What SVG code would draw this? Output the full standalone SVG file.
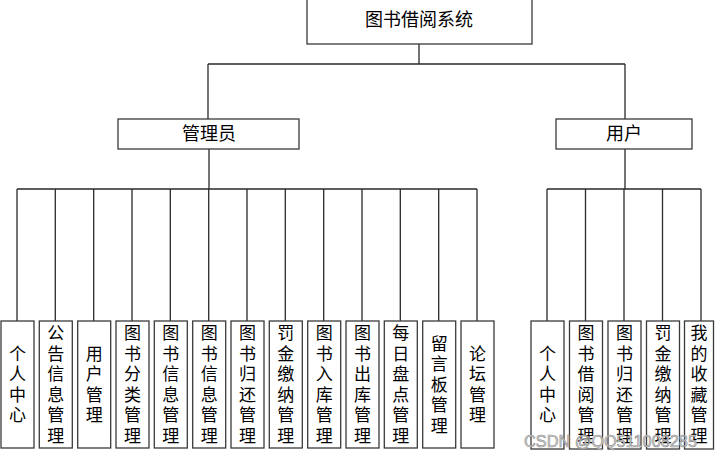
<svg xmlns="http://www.w3.org/2000/svg" width="715" height="458" viewBox="0 0 715 458">
<style>
.box{fill:#fff;stroke:#3a3a3a;stroke-width:1.3}
.ln{fill:none;stroke:#2a2a2a;stroke-width:1.3}
.t{font-family:"Noto Sans CJK SC","Noto Sans CJK JP",sans-serif;fill:#000;text-anchor:middle}
.h{font-size:18px}
.v{font-size:17px;writing-mode:vertical-rl;glyph-orientation-vertical:0;letter-spacing:3.5px}
.wm{font-family:"Liberation Sans",Arial,sans-serif;font-size:16.5px;fill:#d6d6d6;stroke:#8c8c8c;stroke-width:0.6}
</style>
<rect width="715" height="458" fill="#fff"/>
<g id="connectors">
<path class="ln" d="M419 44V64M208 64H625M208 64V119M625 64V119"/>
<path class="ln" d="M209 149V189M17 189H477M17 189V321M55.3 189V321M93.7 189V321M132 189V321M170.3 189V321M208.7 189V321M247 189V321M285.3 189V321M323.7 189V321M362 189V321M400.3 189V321M438.7 189V321M477 189V321"/>
<path class="ln" d="M625 149V189M547 189H701M547 189V321M585.5 189V321M624 189V321M662.5 189V321M701 189V321"/>
</g>
<g id="root"><rect class="box" x="307" y="-2" width="225" height="46"/><text class="t h" x="419" y="26">图书借阅系统</text></g>
<g id="admin"><rect class="box" x="118" y="119" width="181" height="30"/><text class="t h" x="209" y="140">管理员</text></g>
<g id="user"><rect class="box" x="556" y="119" width="136" height="30"/><text class="t h" x="624" y="140">用户</text></g>
<g id="a1"><rect class="box" x="1" y="321" width="33" height="127"/><text class="t v" x="17.5" y="386">个人中心</text></g>
<g id="a2"><rect class="box" x="39.3" y="321" width="33" height="127"/><text class="t v" x="55.8" y="386">公告信息管理</text></g>
<g id="a3"><rect class="box" x="77.7" y="321" width="33" height="127"/><text class="t v" x="94.2" y="386">用户管理</text></g>
<g id="a4"><rect class="box" x="116" y="321" width="33" height="127"/><text class="t v" x="132.5" y="386">图书分类管理</text></g>
<g id="a5"><rect class="box" x="154.3" y="321" width="33" height="127"/><text class="t v" x="170.8" y="386">图书信息管理</text></g>
<g id="a6"><rect class="box" x="192.7" y="321" width="33" height="127"/><text class="t v" x="209.2" y="386">图书信息管理</text></g>
<g id="a7"><rect class="box" x="231" y="321" width="33" height="127"/><text class="t v" x="247.5" y="386">图书归还管理</text></g>
<g id="a8"><rect class="box" x="269.3" y="321" width="33" height="127"/><text class="t v" x="285.8" y="386">罚金缴纳管理</text></g>
<g id="a9"><rect class="box" x="307.7" y="321" width="33" height="127"/><text class="t v" x="324.2" y="386">图书入库管理</text></g>
<g id="a10"><rect class="box" x="346" y="321" width="33" height="127"/><text class="t v" x="362.5" y="386">图书出库管理</text></g>
<g id="a11"><rect class="box" x="384.3" y="321" width="33" height="127"/><text class="t v" x="400.8" y="386">每日盘点管理</text></g>
<g id="a12"><rect class="box" x="422.7" y="321" width="33" height="127"/><text class="t v" x="439.2" y="386">留言板管理</text></g>
<g id="a13"><rect class="box" x="461" y="321" width="33" height="127"/><text class="t v" x="477.5" y="386">论坛管理</text></g>
<g id="u1"><rect class="box" x="531" y="321" width="33" height="128"/><text class="t v" x="547.5" y="386">个人中心</text></g>
<g id="u2"><rect class="box" x="569.5" y="321" width="33" height="128"/><text class="t v" x="586" y="386">图书借阅管理</text></g>
<g id="u3"><rect class="box" x="608" y="321" width="33" height="128"/><text class="t v" x="624.5" y="386">图书归还管理</text></g>
<g id="u4"><rect class="box" x="646.5" y="321" width="33" height="128"/><text class="t v" x="663" y="386">罚金缴纳管理</text></g>
<g id="u5"><rect class="box" x="684.5" y="321" width="29" height="128"/><text class="t v" x="699" y="386">我的收藏管理</text></g>
<text class="wm" x="524" y="447" textLength="173" lengthAdjust="spacingAndGlyphs">CSDN @QQ511008285</text>
</svg>
